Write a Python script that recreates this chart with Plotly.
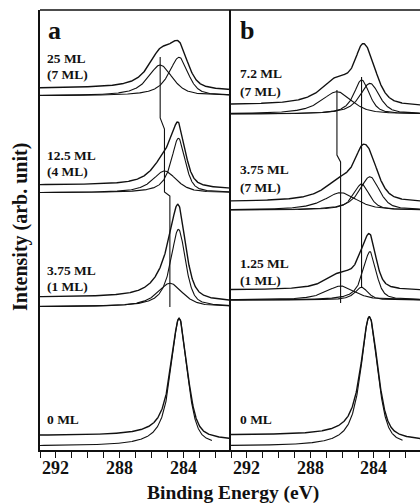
import numpy as np
import plotly.graph_objects as go

# Binding-energy grid (eV) on which the C 1s spectra are evaluated
energy = np.round(np.arange(281.0, 293.0 + 1e-9, 0.02), 3)

# ---------------- panel a ----------------
a_labels = [["0 ML"], ["3.75 ML", "(1 ML)"], ["12.5 ML", "(4 ML)"], ["25 ML", "(7 ML)"]]
a_offset = [4.0, 143.3, 257.3, 354.3]          # stacking offset of each spectrum (arb. unit)
a_bg_high = [10.5, 9.5, 7.7, 7.4]              # Shirley background, high-BE side
a_bg_low = [5.3, 4.7, 3.4, 4.7]                # Shirley background, low-BE side
a_bg_under_peak = [0.0, 1.0, 1.0, 1.0]         # share of the background kept at the peak maximum
a_centers = [[284.26], [284.84, 284.30], [285.18, 284.30], [285.45, 284.26]]
a_heights = [[127.7], [23.4, 77.4], [21.7, 54.4], [30.7, 38.4]]
a_hwhm_high = [[0.62], [0.95, 0.58], [0.90, 0.54], [0.90, 0.76]]
a_hwhm_low = [[0.60], [0.95, 0.52], [0.90, 0.50], [0.90, 0.66]]
a_fit_end = [282.2, 281.0, 281.0, 281.0]       # lowest BE of the drawn fit

# ---------------- panel b ----------------
b_labels = [["0 ML"], ["1.25 ML", "(1 ML)"], ["3.75 ML", "(7 ML)"], ["7.2 ML", "(7 ML)"]]
b_offset = [4.0, 150.0, 240.0, 336.0]
b_bg_high = [11.0, 10.0, 8.3, 9.0]
b_bg_low = [5.0, 9.3, 7.3, 7.3]
b_bg_under_peak = [0.0, 1.0, 1.0, 1.0]
b_centers = [[284.29], [286.10, 284.78, 284.25], [286.10, 284.78, 284.25], [286.33, 284.78, 284.25]]
b_heights = [[129.3], [14.0, 12.7, 48.3], [17.3, 26.0, 33.3], [22.3, 34.0, 30.7]]
b_hwhm_high = [[0.64], [1.10, 0.50, 0.52], [1.25, 0.60, 0.78], [1.20, 0.58, 0.76]]
b_hwhm_low = [[0.62], [1.05, 0.48, 0.46], [1.20, 0.58, 0.70], [1.10, 0.58, 0.70]]
b_fit_end = [282.2, 281.0, 281.0, 281.0]

x_ticks = [292, 288, 284]


def component(e, center, height, hw_hi, hw_lo):
    """Asymmetric pseudo-Voigt line (heavier Lorentzian tail on the high-BE side)."""
    hi = e >= center
    hw = np.where(hi, hw_hi, hw_lo)
    eta = np.where(hi, 0.85, 0.55)
    u = (e - center) / hw
    return height * (eta / (1.0 + u ** 2) + (1.0 - eta) * np.exp(-np.log(2.0) * u ** 2))


def background(e, signal, low, high, under_peak):
    """Shirley-type step following the integrated peak area from the low-BE end."""
    cum = np.cumsum(signal)
    step = low + (high - low) * cum / cum[-1]
    return step * (1.0 - (1.0 - under_peak) * signal / signal.max())


INK = "#111111"
SERIF = "Liberation Serif"

fig = go.Figure()


def add_panel(xa, ya, offsets, bg_hi, bg_lo, bg_pk, centers, heights, hw_hi, hw_lo, fit_end):
    for k in range(len(offsets)):
        comps = [component(energy, c, h, wh, wl)
                 for c, h, wh, wl in zip(centers[k], heights[k], hw_hi[k], hw_lo[k])]
        total = np.sum(comps, axis=0)
        raw = offsets[k] + total + background(energy, total, bg_lo[k], bg_hi[k], bg_pk[k])
        keep = energy >= fit_end[k]
        for comp in comps:
            fig.add_trace(go.Scatter(x=energy[keep], y=(offsets[k] + comp)[keep], mode="lines",
                                     line=dict(color=INK, width=1.1), xaxis=xa, yaxis=ya,
                                     hoverinfo="skip", showlegend=False))
        fig.add_trace(go.Scatter(x=energy, y=raw, mode="lines",
                                 line=dict(color=INK, width=1.4), xaxis=xa, yaxis=ya,
                                 hoverinfo="skip", showlegend=False))


add_panel("x", "y", a_offset, a_bg_high, a_bg_low, a_bg_under_peak, a_centers, a_heights,
          a_hwhm_high, a_hwhm_low, a_fit_end)
add_panel("x2", "y2", b_offset, b_bg_high, b_bg_low, b_bg_under_peak, b_centers, b_heights,
          b_hwhm_high, b_hwhm_low, b_fit_end)


# guide lines following the shifted component positions through the stack
def guide(xa, ya, energies, spans):
    xs, ys = [], []
    for e, (top, bottom) in zip(energies, spans):
        xs += [e, e]
        ys += [top, bottom]
    fig.add_trace(go.Scatter(x=xs, y=ys, mode="lines", line=dict(color=INK, width=1.1),
                             xaxis=xa, yaxis=ya, hoverinfo="skip", showlegend=False))


guide("x", "y", [a_centers[3][0], a_centers[2][0], a_centers[1][0]],
      [(393, 332), (321, 258), (254, 143)])
guide("x2", "y2", [b_centers[3][0], b_centers[2][0]], [(360, 295), (288, 147)])
guide("x2", "y2", [b_centers[3][1]], [(373, 163)])

W, H = 420, 504
ML, MT, MB = 40, 10, 54
PW = W - ML
PH = H - MT - MB
split = 191 / PW

axis_common = dict(
    showline=True, linecolor=INK, linewidth=1.6, ticks="outside", ticklen=6, tickwidth=1.3,
    tickcolor=INK, tickmode="array", tickvals=x_ticks, showticklabels=False,
    showgrid=False, zeroline=False,
    minor=dict(tickmode="linear", tick0=281, dtick=1, ticks="outside", ticklen=6,
               tickwidth=1.3, tickcolor=INK, showgrid=False),
)
yaxis_common = dict(range=[0, 440], showline=True, linecolor=INK, linewidth=1.6,
                    showticklabels=False, ticks="", showgrid=False, zeroline=False)

fig.update_layout(
    width=W, height=H, margin=dict(l=ML, r=0, t=MT, b=MB),
    paper_bgcolor="white", plot_bgcolor="white",
    xaxis=dict(domain=[0, split], range=[293, 281], anchor="y", **axis_common),
    xaxis2=dict(domain=[split, 1], range=[293, 281.1], anchor="y2", **axis_common),
    yaxis=dict(anchor="x", **yaxis_common),
    yaxis2=dict(anchor="x2", **yaxis_common),
    shapes=[dict(type="line", xref="paper", yref="paper", x0=0, x1=1, y0=1, y1=1,
                 line=dict(color=INK, width=1.6))],
)

ann = []


def txt(x, y, s, size, xref="paper", yref="paper", xanchor="left", angle=0):
    ann.append(dict(x=x, y=y, xref=xref, yref=yref, text="<b>%s</b>" % s, showarrow=False,
                    xanchor=xanchor, yanchor="middle", textangle=angle,
                    font=dict(family=SERIF, size=size, color=INK)))


# bold tick labels under both energy axes
for xr in ("x", "x2"):
    for t in x_ticks:
        txt(t, -18 / PH, "%d" % t, 18, xref=xr, xanchor="center")

# panel letters
txt((46 - ML) / PW, 420, "a", 26, yref="y")
txt((238 - ML) / PW, 420, "b", 26, yref="y")

# spectrum labels (first line, second line heights in plot units)
a_label_y = [(31,), (180, 164), (295, 279), (392, 376)]
b_label_y = [(31,), (187, 170), (281, 263), (377, 359)]
for lines, ys in zip(a_labels, a_label_y):
    for s, y in zip(lines, ys):
        txt((45 - ML) / PW, y, s, 13.5, yref="y")
for lines, ys in zip(b_labels, b_label_y):
    for s, y in zip(lines, ys):
        txt((238 - ML) / PW, y, s, 13.5, yref="y")

# axis titles
txt((20 - ML) / PW, (450 - 227) / PH, "Intensity (arb. unit)", 20, xanchor="center", angle=-90)
txt((233 - ML) / PW, (450 - 492.5) / PH, "Binding Energy (eV)", 19.5, xanchor="center")

fig.update_layout(annotations=ann)
fig.write_html("out.html")
